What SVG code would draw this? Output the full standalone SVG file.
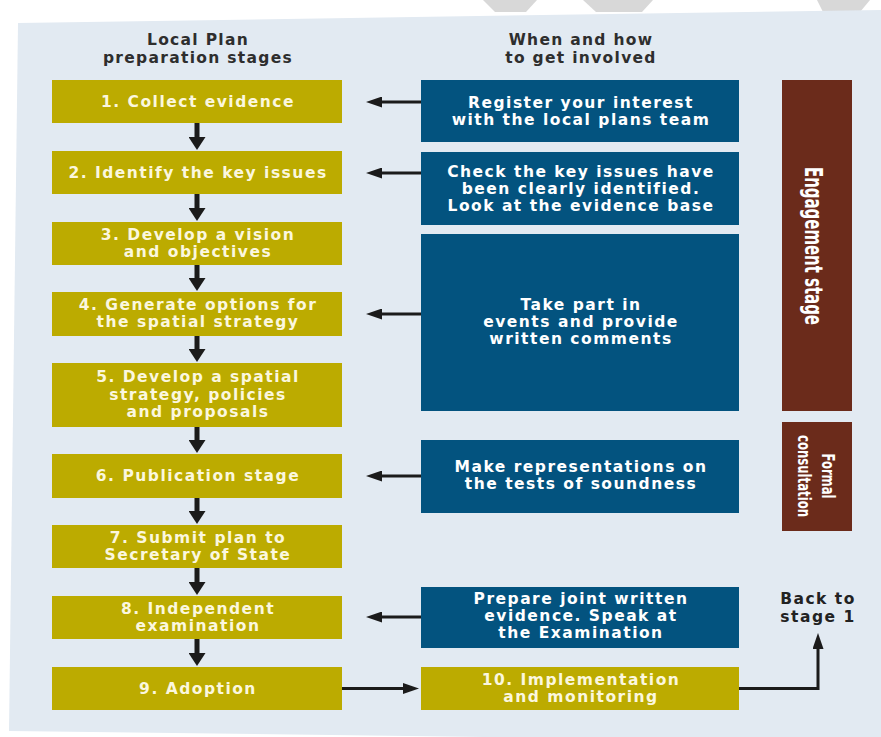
<svg xmlns="http://www.w3.org/2000/svg" width="881" height="737" viewBox="0 0 881 737">
<style>
.olive{fill:#bcab00}
.blue{fill:#03537f}
.brown{fill:#6b2b1b}
.t{font-family:"DejaVu Sans","Liberation Sans",sans-serif;font-weight:bold;font-size:15.5px;letter-spacing:1.5px;text-anchor:middle}
.tc{fill:#fbf7de}
.tw{fill:#ffffff}
.hd{fill:#2e2e2e;font-size:15.5px;letter-spacing:1.3px}
.cn{stroke:#1b1b1b;fill:none}
.h{stroke-width:3;marker-end:url(#ah)}
.d{stroke-width:5;marker-end:url(#ad)}
.side{font-family:"Liberation Sans Narrow","DejaVu Sans Condensed","DejaVu Sans",sans-serif;fill:#ffffff;text-anchor:middle}
</style>
<defs>
<marker id="ah" markerUnits="userSpaceOnUse" markerWidth="16" markerHeight="11" viewBox="0 0 16 11" refX="6" refY="5.5" orient="auto">
<path d="M0,0 L16,5.5 L0,11 z" fill="#1b1b1b"/>
</marker>
<marker id="ad" markerUnits="userSpaceOnUse" markerWidth="13" markerHeight="17" viewBox="0 0 13 17" refX="3" refY="8.5" orient="auto">
<path d="M0,0 L13,8.5 L0,17 z" fill="#1b1b1b"/>
</marker>
</defs>
<rect width="881" height="737" fill="#ffffff"/>
<g id="watermark" fill="#d8d8d8">
<polygon points="483,0 537,0 526,12 495,12"/>
<polygon points="583,0 653,0 642,12 596,12"/>
<polygon points="817,0 870,0 860,12 823,12"/>
</g>
<polygon id="panel" points="18,23 881,10 881,742 9,731" fill="#e2eaf2"/>
<g id="headers" class="t hd">
<text x="198" y="44.5">Local Plan</text>
<text x="198" y="62.5">preparation stages</text>
<text x="581" y="44.5">When and how</text>
<text x="581" y="62.5">to get involved</text>
</g>
<g id="connectors" class="cn">
<line class="d" x1="197" y1="123" x2="197" y2="140"/>
<line class="d" x1="197" y1="194" x2="197" y2="211"/>
<line class="d" x1="197" y1="265" x2="197" y2="281"/>
<line class="d" x1="197" y1="336" x2="197" y2="352"/>
<line class="d" x1="197" y1="427" x2="197" y2="443"/>
<line class="d" x1="197" y1="498" x2="197" y2="514"/>
<line class="d" x1="197" y1="568" x2="197" y2="585"/>
<line class="d" x1="197" y1="639" x2="197" y2="656"/>
<line class="h" x1="421" y1="102" x2="376" y2="102"/>
<line class="h" x1="421" y1="173" x2="376" y2="173"/>
<line class="h" x1="421" y1="314" x2="376" y2="314"/>
<line class="h" x1="421" y1="476" x2="376" y2="476"/>
<line class="h" x1="421" y1="617" x2="376" y2="617"/>
<line class="h" x1="342" y1="688.5" x2="409" y2="688.5"/>
<path class="h" d="M739,688.5 H818 V643"/>
</g>
<g id="s1"><rect class="olive" x="52" y="80" width="290" height="43"/><text class="t tc" x="198" y="107">1. Collect evidence</text></g>
<g id="s2"><rect class="olive" x="52" y="151" width="290" height="43"/><text class="t tc" x="198" y="178">2. Identify the key issues</text></g>
<g id="s3"><rect class="olive" x="52" y="222" width="290" height="43"/><text class="t tc" x="198" y="240">3. Develop a vision</text><text class="t tc" x="198" y="257">and objectives</text></g>
<g id="s4"><rect class="olive" x="52" y="292" width="290" height="44"/><text class="t tc" x="198" y="310">4. Generate options for</text><text class="t tc" x="198" y="327">the spatial strategy</text></g>
<g id="s5"><rect class="olive" x="52" y="363" width="290" height="64"/><text class="t tc" x="198" y="382">5. Develop a spatial</text><text class="t tc" x="198" y="399.5">strategy, policies</text><text class="t tc" x="198" y="417">and proposals</text></g>
<g id="s6"><rect class="olive" x="52" y="454" width="290" height="44"/><text class="t tc" x="198" y="481">6. Publication stage</text></g>
<g id="s7"><rect class="olive" x="52" y="525" width="290" height="43"/><text class="t tc" x="198" y="543">7. Submit plan to</text><text class="t tc" x="198" y="560">Secretary of State</text></g>
<g id="s8"><rect class="olive" x="52" y="596" width="290" height="43"/><text class="t tc" x="198" y="614">8. Independent</text><text class="t tc" x="198" y="631">examination</text></g>
<g id="s9"><rect class="olive" x="52" y="667" width="290" height="43"/><text class="t tc" x="198" y="694">9. Adoption</text></g>
<g id="s10"><rect class="olive" x="421" y="667" width="318" height="43"/><text class="t tc" x="581" y="685">10. Implementation</text><text class="t tc" x="581" y="702">and monitoring</text></g>
<g id="e1"><rect class="blue" x="421" y="80" width="318" height="62"/><text class="t tw" x="581" y="107.5">Register your interest</text><text class="t tw" x="581" y="124.5">with the local plans team</text></g>
<g id="e2"><rect class="blue" x="421" y="152" width="318" height="73"/><text class="t tw" x="581" y="176.5">Check the key issues have</text><text class="t tw" x="581" y="193.5">been clearly identified.</text><text class="t tw" x="581" y="210.5">Look at the evidence base</text></g>
<g id="e3"><rect class="blue" x="421" y="234" width="318" height="177"/><text class="t tw" x="581" y="310">Take part in</text><text class="t tw" x="581" y="327">events and provide</text><text class="t tw" x="581" y="344">written comments</text></g>
<g id="e4"><rect class="blue" x="421" y="440" width="318" height="73"/><text class="t tw" x="581" y="472">Make representations on</text><text class="t tw" x="581" y="489">the tests of soundness</text></g>
<g id="e5"><rect class="blue" x="421" y="587" width="318" height="61"/><text class="t tw" x="581" y="604">Prepare joint written</text><text class="t tw" x="581" y="621">evidence. Speak at</text><text class="t tw" x="581" y="638">the Examination</text></g>
<g id="engagement"><rect class="brown" x="782" y="80" width="70" height="331"/><text class="side" transform="translate(805,246) rotate(90)" font-size="24" font-weight="bold" textLength="158" lengthAdjust="spacingAndGlyphs">Engagement stage</text></g>
<g id="formal"><rect class="brown" x="782" y="422" width="70" height="109"/><text class="side" transform="translate(822,476) rotate(90)" font-size="18" font-weight="bold" textLength="45" lengthAdjust="spacingAndGlyphs">Formal</text><text class="side" transform="translate(798,476) rotate(90)" font-size="18" font-weight="bold" textLength="82" lengthAdjust="spacingAndGlyphs">consultation</text></g>
<g id="back"><text class="t" fill="#222222" x="818" y="604" font-size="15.5">Back to</text><text class="t" fill="#222222" x="818" y="622" font-size="15.5">stage 1</text></g>
</svg>
